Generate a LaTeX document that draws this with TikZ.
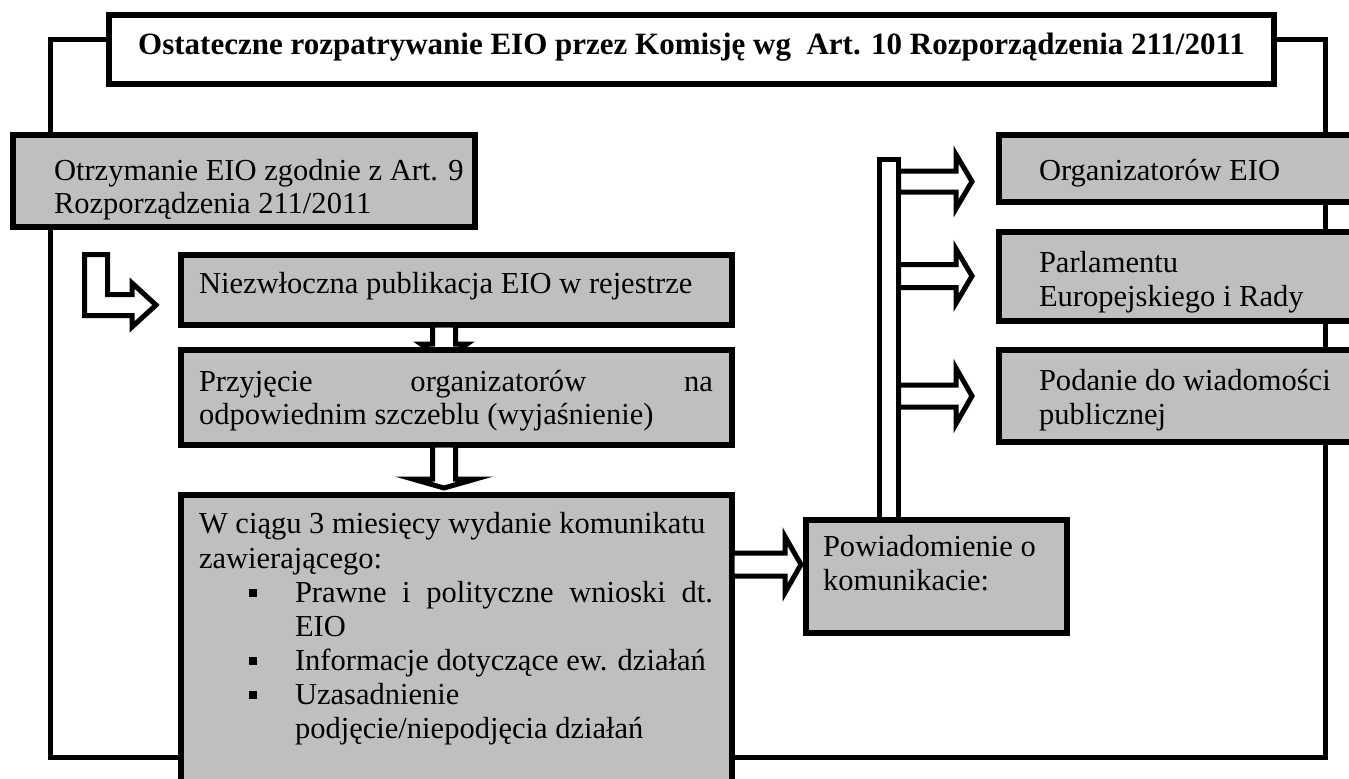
\documentclass[tikz,border=0pt]{standalone}
\usepackage{fontspec}
\setmainfont{Liberation Serif}
\usetikzlibrary{calc}
\definecolor{boxgray}{RGB}{191,191,191}
\newcommand\fsz{\fontsize{22.9pt}{25.5pt}\selectfont}
\newcommand\mkbox[7]{\node[#7, fill=#6, minimum width={(#4-#2)*0.75pt}, minimum height={(#5-#3)*0.75pt}, anchor=north west] (#1) at (#2,#3) {};}
\newcommand\rarrow[5]{\draw[arr] let \p1=#1, \p2=#2 in
  (\x1,\y2+#3*0.75pt) -- (\x2-#5*0.75pt,\y2+#3*0.75pt) -- (\x2-#5*0.75pt,\y2+#4*0.75pt) -- (\p2)
  -- (\x2-#5*0.75pt,\y2-#4*0.75pt) -- (\x2-#5*0.75pt,\y2-#3*0.75pt) -- (\x1,\y2-#3*0.75pt) -- cycle;}
\newcommand\darrow[5]{\draw[arr] let \p1=#1, \p2=#2 in
  (\x2-#3*0.75pt,\y1) -- (\x2-#3*0.75pt,\y2+#5*0.75pt) -- (\x2-#4*0.75pt,\y2+#5*0.75pt) -- (\p2)
  -- (\x2+#4*0.75pt,\y2+#5*0.75pt) -- (\x2+#3*0.75pt,\y2+#5*0.75pt) -- (\x2+#3*0.75pt,\y1) -- cycle;}
\tikzset{
  boxsty/.style={draw=black, line width=4.5pt, inner sep=0pt, outer sep=0pt},
  barsty/.style={draw=black, line width=3.75pt, inner sep=0pt, outer sep=0pt},
  arr/.style={draw=black, fill=white, line width=3.75pt},
  frame/.style={draw=black, line width=3.75pt},
  txt/.style={anchor=base west, inner sep=0pt, outer sep=0pt, font=\fsz},
  bul/.style={fill=black, inner sep=0pt, minimum size=6pt},
}
\begin{document}
\begin{tikzpicture}[x=0.75pt,y=-0.75pt]
\useasboundingbox (0,0) rectangle (1349,778);
\clip (0,0) rectangle (1349,778);
\fill[white] (0,0) rectangle (1349,778);
% outer frame
\draw[frame] (50,39) rectangle (1325,757);
% hollow bar
\mkbox{bar}{879.5}{159.5}{898.5}{530}{white}{barsty}
% block arrows
\rarrow{(bar.east)}{(972,181.5)}{10.5}{27}{16}
\rarrow{(bar.east)}{(972,276)}{11.5}{27}{16}
\rarrow{(bar.east)}{(972,396)}{11}{28}{16}
\draw[arr] (84.5,254.5) -- (107.5,254.5) -- (107.5,294.5) -- (132,294.5) -- (132,283)
  -- (156,305) -- (132,327) -- (132,315.5) -- (84.5,315.5) -- cycle;
% boxes
\mkbox{titlebox}{109}{15}{1274}{84}{white}{boxsty}
\mkbox{otrz}{13}{135}{475}{227}{boxgray}{boxsty}
\mkbox{niez}{181}{255}{732}{325}{boxgray}{boxsty}
\darrow{(niez.south)}{(444,360)}{11.5}{23}{16}
\mkbox{przy}{181}{350}{732}{445}{boxgray}{boxsty}
\darrow{(przy.south)}{(444,488)}{11.5}{31.5}{9}
\mkbox{wc}{181}{495}{732}{800}{boxgray}{boxsty}
\rarrow{(wc.east)}{(801,564.5)}{11.5}{28}{16}
\mkbox{pow}{806}{520}{1067}{633}{boxgray}{boxsty}
\mkbox{org}{999}{135}{1400}{202}{boxgray}{boxsty}
\mkbox{parl}{999}{232}{1400}{321}{boxgray}{boxsty}
\mkbox{pod}{999}{350}{1400}{442}{boxgray}{boxsty}
% texts
\node[anchor=base, inner sep=0pt, font=\fontsize{23.25pt}{26pt}\selectfont\bfseries] (title) at (691.5,54)
  {Ostateczne rozpatrywanie EIO przez Komisję wg\ \ Art. 10 Rozporządzenia 211/2011};
\node[txt] (o1) at (54,180) {Otrzymanie EIO zgodnie z Art. 9};
\node[txt] (o2) at (54,213) {Rozporządzenia 211/2011};
\node[txt] (n1) at (199,293) {Niezwłoczna publikacja EIO w rejestrze};
\node[txt] (p1) at (199,391) {\makebox[385.5pt][s]{Przyjęcie organizatorów na}};
\node[txt] (p2) at (199,424) {odpowiednim szczeblu (wyjaśnienie)};
\node[txt] (w1) at (199,533) {W ciągu 3 miesięcy wydanie komunikatu};
\node[txt] (w2) at (199,568) {zawierającego:};
\node[txt] (w3) at (295,602) {\makebox[313.5pt][s]{Prawne i polityczne wnioski dt.}};
\node[txt] (w4) at (295,636) {EIO};
\node[txt] (w5) at (295,670) {Informacje dotyczące ew. działań};
\node[txt] (w6) at (295,704) {Uzasadnienie};
\node[txt] (w7) at (295,738) {podjęcie/niepodjęcia działań};
\node[bul] (b1) at (253,593) {};
\node[bul] (b2) at (253,661) {};
\node[bul] (b3) at (253,695) {};
\node[txt] (pw1) at (823,556) {Powiadomienie o};
\node[txt] (pw2) at (823,590) {komunikacie:};
\node[txt] (or1) at (1039,180) {Organizatorów EIO};
\node[txt] (pa1) at (1039,272) {Parlamentu};
\node[txt] (pa2) at (1039,306) {Europejskiego i Rady};
\node[txt] (pd1) at (1039,390) {Podanie do wiadomości};
\node[txt] (pd2) at (1039,424) {publicznej};
\end{tikzpicture}
\end{document}
